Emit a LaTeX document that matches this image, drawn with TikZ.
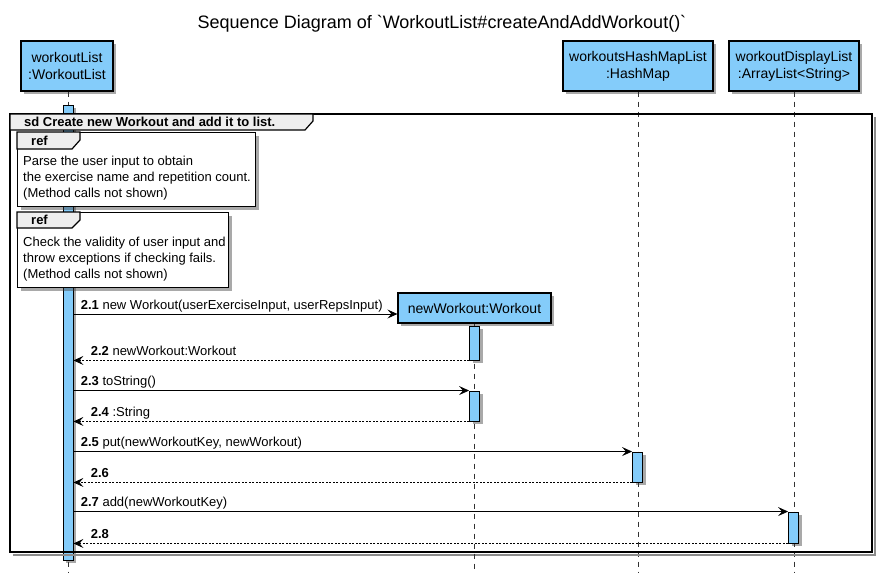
\documentclass[tikz,border=0pt]{standalone}
\usepackage{fontspec}
\setmainfont{Liberation Sans}
\usetikzlibrary{arrows.meta, shadows, calc}

\definecolor{partblue}{RGB}{132,204,250}
\definecolor{tabgray}{RGB}{238,238,238}

\tikzset{
  % --- Bong do -------------------------------------------------
  shd/.style={drop shadow={shadow xshift=3pt, shadow yshift=-3pt,
    fill=black!75, opacity=0.45}},
  % --- Tuan tu -------------------------------------------------
  seqtitle/.style={font=\fontsize{18}{20}\selectfont, inner sep=0pt},
  seqpart/.style={draw, line width=1.2pt, fill=partblue, shd, align=center,
    font=\fontsize{14}{17}\selectfont, inner xsep=4pt, minimum height=50pt},
  seqact/.style={draw, line width=0.9pt, fill=partblue, shd,
    minimum width=10pt, inner sep=0pt},
  seqlife/.style={dash pattern=on 5pt off 5pt, line width=0.7pt, black!80},
  seqmsg/.style={-{Stealth[length=10pt, width=9pt, inset=4pt]}, line width=0.8pt},
  seqret/.style={-{Stealth[length=10pt, width=9pt, inset=4pt]}, line width=0.8pt,
    dash pattern=on 2pt off 1.5pt},
  seqlab/.style={font=\fontsize{13}{15}\selectfont, anchor=base west,
    inner sep=0pt},
  seqframe/.style={draw, line width=1.8pt},
  seqnote/.style={draw, line width=1.4pt, fill=white, shd, inner sep=0pt},
  seqtab/.style={draw, line width=1.2pt, fill=tabgray},
  seqtabtxt/.style={font=\fontsize{13}{15}\selectfont\bfseries, anchor=base west,
    inner sep=0pt},
  seqnotetxt/.style={font=\fontsize{13}{16}\selectfont, align=left, anchor=west,
    inner sep=0pt}
}

\begin{document}
\begin{tikzpicture}[x=1pt, y=-1pt]
  \useasboundingbox (0,0) rectangle (884,574);

  % --- Tieu de -------------------------------------------------
  \node[seqtitle] (T) at (442,24)
    {Sequence Diagram of \textasciigrave WorkoutList\#createAndAddWorkout()\textasciigrave};

  % --- Doi tuong -----------------------------------------------
  \node[seqpart, minimum width=92pt] (WL) at (67,66) {workoutList\\:WorkoutList};
  \node[seqpart, minimum width=150pt] (WHM) at (638,66) {workoutsHashMapList\\:HashMap};
  \node[seqpart, minimum width=130pt] (WDL) at (794,66) {workoutDisplayList\\:ArrayList<String>};

  % --- Duong song ----------------------------------------------
  \draw[seqlife] (WL.south -| 68,0) -- (68,572);
  \draw[seqlife] (WHM.south) -- (WHM.south |- 0,572);
  \draw[seqlife] (WDL.south) -- (WDL.south |- 0,572);

  % --- Thanh kich hoat chinh -----------------------------------
  \node[seqact, minimum height=455pt] (A0) at (68,332.5) {};

  % --- Khung sd ------------------------------------------------
  \coordinate (SDnw) at (10,114);
  \coordinate (SDse) at (872,552);
  \draw[line width=2.2pt, black!45] ($(SDnw -| SDse)+(3,3)$) -- ($(SDse)+(3,3)$) -- ($(SDnw |- SDse)+(3,3)$);
  \draw[seqframe] (SDnw) rectangle (SDse);
  \draw[seqtab] (SDnw) -- (313,114) -- (313,121) -- (305,130) -- (10,130) -- cycle;
  \node[seqtabtxt] (SDlab) at (24,126.5) {sd Create new Workout and add it to list.};

  % --- Ref 1 ---------------------------------------------------
  \node[seqnote, anchor=north west, minimum width=238pt, minimum height=74pt] (R1) at (17,132) {};
  \draw[seqtab] (R1.north west) -- (80,132) -- (80,140) -- (72,149) -- (R1.west |- 0,149) -- cycle;
  \node[seqtabtxt] (R1lab) at (31,145) {ref};
  \node[seqnotetxt] (R1txt) at (23,178)
    {Parse the user input to obtain\\the exercise name and repetition count.\\(Method calls not shown)};

  % --- Ref 2 ---------------------------------------------------
  \node[seqnote, anchor=north west, minimum width=211pt, minimum height=75pt] (R2) at (17,212) {};
  \draw[seqtab] (R2.north west) -- (80,212) -- (80,220) -- (72,228) -- (R2.west |- 0,228) -- cycle;
  \node[seqtabtxt] (R2lab) at (31,224.5) {ref};
  \node[seqnotetxt] (R2txt) at (23,259)
    {Check the validity of user input and\\throw exceptions if checking fails.\\(Method calls not shown)};

  % --- Doi tuong moi -------------------------------------------
  \node[seqpart, minimum width=153pt, minimum height=30pt] (NW) at (474.5,308) {newWorkout:Workout};
  \draw[seqlife] (NW.south) -- (NW.south |- 0,572);

  % --- Thanh kich hoat -----------------------------------------
  \node[seqact, minimum height=34pt] (A1) at (474.5,343) {};
  \node[seqact, minimum height=30pt] (A2) at (474.5,406) {};
  \node[seqact, minimum height=30pt] (A3) at (637.5,467) {};
  \node[seqact, minimum height=31pt] (A4) at (793.5,527.5) {};

  % --- Thong diep ----------------------------------------------
  \path ([yshift=-6pt]NW.west) coordinate (m21);
  \draw[seqmsg] (A0.east |- m21) -- (m21)
    node[seqlab, pos=0, xshift=7pt, yshift=5pt] {\textbf{2.1} new Workout(userExerciseInput, userRepsInput)};
  \draw[seqret] (A1.south west) -- (A0.east |- A1.south west)
    node[seqlab, pos=1, xshift=17pt, yshift=5pt] {\textbf{2.2} newWorkout:Workout};
  \draw[seqmsg] (A0.east |- A2.north west) -- (A2.north west)
    node[seqlab, pos=0, xshift=7pt, yshift=5pt] {\textbf{2.3} toString()};
  \draw[seqret] (A2.south west) -- (A0.east |- A2.south west)
    node[seqlab, pos=1, xshift=17pt, yshift=5pt] {\textbf{2.4} :String};
  \draw[seqmsg] (A0.east |- A3.north west) -- (A3.north west)
    node[seqlab, pos=0, xshift=7pt, yshift=5pt] {\textbf{2.5} put(newWorkoutKey, newWorkout)};
  \draw[seqret] (A3.south west) -- (A0.east |- A3.south west)
    node[seqlab, pos=1, xshift=17pt, yshift=5pt] {\textbf{2.6}};
  \draw[seqmsg] (A0.east |- A4.north west) -- (A4.north west)
    node[seqlab, pos=0, xshift=7pt, yshift=5pt] {\textbf{2.7} add(newWorkoutKey)};
  \draw[seqret] (A4.south west) -- (A0.east |- A4.south west)
    node[seqlab, pos=1, xshift=17pt, yshift=5pt] {\textbf{2.8}};

\end{tikzpicture}
\end{document}
